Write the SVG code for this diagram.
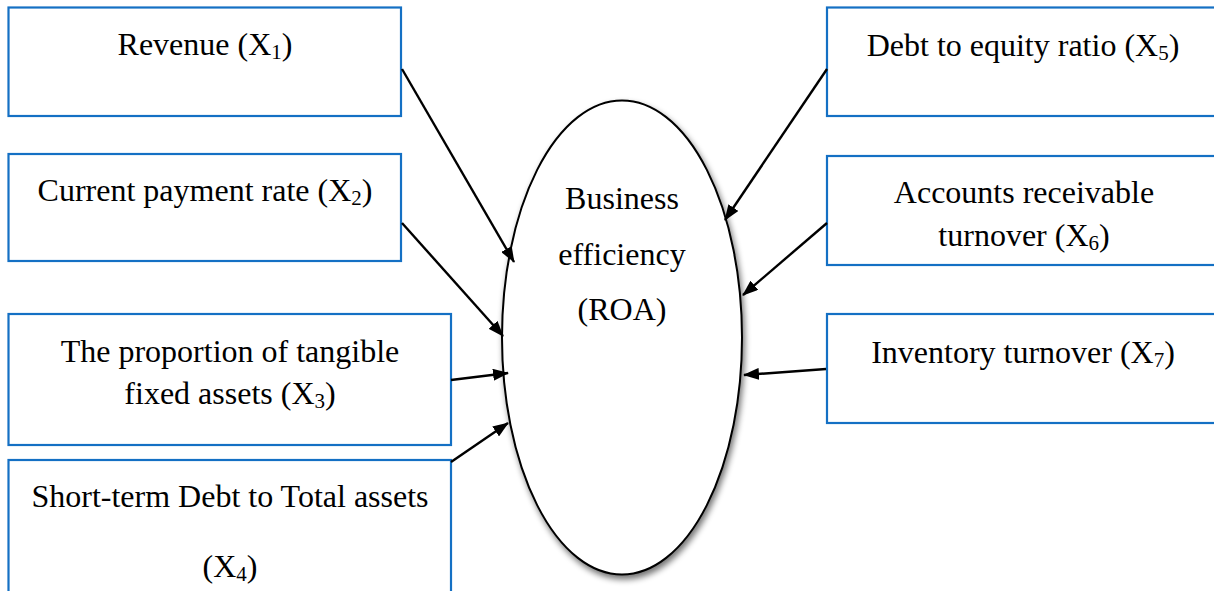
<svg xmlns="http://www.w3.org/2000/svg" width="1214" height="591" viewBox="0 0 1214 591">
<style>
.box{fill:#fff;stroke:#1470c4;stroke-width:2.2}
.t{font-family:"Liberation Serif","Times New Roman",serif;font-size:32px;fill:#000;text-anchor:middle}
.sub{font-size:21px}
.c{stroke:#000;stroke-width:2.4;fill:none;marker-end:url(#ah)}
</style>
<defs>
<marker id="ah" viewBox="0 0 16 12" refX="15" refY="6" markerWidth="16" markerHeight="12" markerUnits="userSpaceOnUse" orient="auto">
<path d="M0,0 L16,6 L0,12 Z" fill="#000"/>
</marker>
<filter id="sh" x="-20%" y="-20%" width="140%" height="140%">
<feGaussianBlur in="SourceAlpha" stdDeviation="3"/>
<feOffset dx="2" dy="4" result="b"/>
<feComponentTransfer><feFuncA type="linear" slope="0.55"/></feComponentTransfer>
<feMerge><feMergeNode/><feMergeNode in="SourceGraphic"/></feMerge>
</filter>
</defs>
<rect width="1214" height="591" fill="#fff"/>
<g id="n-roa">
<ellipse cx="622" cy="337.5" rx="120" ry="237" fill="#fff" stroke="#000" stroke-width="2" filter="url(#sh)"/>
<text class="t" x="622" y="209">Business</text>
<text class="t" x="622" y="265">efficiency</text>
<text class="t" x="622" y="320">(ROA)</text>
</g>
<g id="n-x1">
<rect class="box" x="8.5" y="7.5" width="392.5" height="108.5"/>
<text class="t" x="205" y="55">Revenue (X<tspan class="sub" dy="4">1</tspan><tspan dy="-4">)</tspan></text>
</g>
<g id="n-x2">
<rect class="box" x="8.5" y="154" width="392.5" height="107"/>
<text class="t" x="205" y="201">Current payment rate (X<tspan class="sub" dy="4">2</tspan><tspan dy="-4">)</tspan></text>
</g>
<g id="n-x3">
<rect class="box" x="8.5" y="314" width="442.5" height="131"/>
<text class="t" x="230" y="362">The proportion of tangible</text>
<text class="t" x="230" y="404">fixed assets (X<tspan class="sub" dy="4">3</tspan><tspan dy="-4">)</tspan></text>
</g>
<g id="n-x4">
<rect class="box" x="8.5" y="460" width="442.5" height="140"/>
<text class="t" x="230" y="507">Short-term Debt to Total assets</text>
<text class="t" x="230" y="577">(X<tspan class="sub" dy="4">4</tspan><tspan dy="-4">)</tspan></text>
</g>
<g id="n-x5">
<rect class="box" x="827" y="7.5" width="395" height="108.5"/>
<text class="t" x="1023" y="56">Debt to equity ratio (X<tspan class="sub" dy="4">5</tspan><tspan dy="-4">)</tspan></text>
</g>
<g id="n-x6">
<rect class="box" x="827" y="156" width="395" height="109"/>
<text class="t" x="1024" y="203">Accounts receivable</text>
<text class="t" x="1024" y="246">turnover (X<tspan class="sub" dy="4">6</tspan><tspan dy="-4">)</tspan></text>
</g>
<g id="n-x7">
<rect class="box" x="827" y="314" width="395" height="109"/>
<text class="t" x="1023" y="363">Inventory turnover (X<tspan class="sub" dy="4">7</tspan><tspan dy="-4">)</tspan></text>
</g>
<g id="connectors">
<line class="c" x1="402" y1="69" x2="514" y2="262"/>
<line class="c" x1="402" y1="223" x2="503" y2="336"/>
<line class="c" x1="451" y1="380" x2="508" y2="373"/>
<line class="c" x1="451" y1="462" x2="508" y2="423"/>
<line class="c" x1="827" y1="69" x2="725" y2="220"/>
<line class="c" x1="827" y1="223" x2="743" y2="295"/>
<line class="c" x1="826" y1="369" x2="744" y2="375"/>
</g>
</svg>
